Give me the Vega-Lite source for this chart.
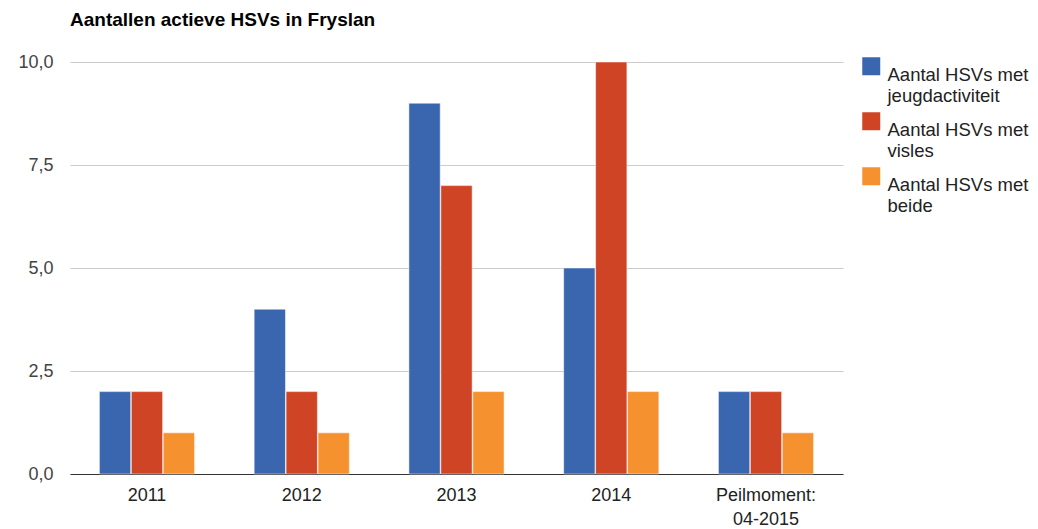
{
  "$schema": "https://vega.github.io/schema/vega-lite/v6.json",
  "autosize": "none",
  "width": 773,
  "height": 412,
  "padding": {"left": 70, "top": 62, "right": 195, "bottom": 55},
  "background": "white",
  "title": {
    "text": "Aantallen actieve HSVs in Fryslan",
    "anchor": "start",
    "frame": "group",
    "font": "Liberation Sans",
    "fontSize": 19,
    "fontWeight": "bold",
    "color": "#000000",
    "offset": 23
  },
  "config": {
    "view": {"stroke": null},
    "font": "Liberation Sans"
  },
  "data": {
    "values": [
      {"periode": "2011", "reeks": "Aantal HSVs met jeugdactiviteit", "waarde": 2},
      {"periode": "2011", "reeks": "Aantal HSVs met visles", "waarde": 2},
      {"periode": "2011", "reeks": "Aantal HSVs met beide", "waarde": 1},
      {"periode": "2012", "reeks": "Aantal HSVs met jeugdactiviteit", "waarde": 4},
      {"periode": "2012", "reeks": "Aantal HSVs met visles", "waarde": 2},
      {"periode": "2012", "reeks": "Aantal HSVs met beide", "waarde": 1},
      {"periode": "2013", "reeks": "Aantal HSVs met jeugdactiviteit", "waarde": 9},
      {"periode": "2013", "reeks": "Aantal HSVs met visles", "waarde": 7},
      {"periode": "2013", "reeks": "Aantal HSVs met beide", "waarde": 2},
      {"periode": "2014", "reeks": "Aantal HSVs met jeugdactiviteit", "waarde": 5},
      {"periode": "2014", "reeks": "Aantal HSVs met visles", "waarde": 10},
      {"periode": "2014", "reeks": "Aantal HSVs met beide", "waarde": 2},
      {"periode": "Peilmoment: 04-2015", "reeks": "Aantal HSVs met jeugdactiviteit", "waarde": 2},
      {"periode": "Peilmoment: 04-2015", "reeks": "Aantal HSVs met visles", "waarde": 2},
      {"periode": "Peilmoment: 04-2015", "reeks": "Aantal HSVs met beide", "waarde": 1}
    ]
  },
  "mark": {"type": "bar", "stroke": "white", "strokeWidth": 0.5},
  "encoding": {
    "x": {
      "field": "periode",
      "type": "nominal",
      "sort": null,
      "scale": {"paddingInner": 0.385, "paddingOuter": 0.19},
      "axis": {
        "title": null,
        "labelAngle": 0,
        "labelFontSize": 18,
        "labelColor": "#222222",
        "labelPadding": 12,
        "ticks": false,
        "domainColor": "#333333",
        "domainWidth": 1,
        "labelExpr": "datum.value == 'Peilmoment: 04-2015' ? ['Peilmoment:', '04-2015'] : datum.label",
        "labelLineHeight": 24
      }
    },
    "xOffset": {
      "field": "reeks",
      "type": "nominal",
      "sort": ["Aantal HSVs met jeugdactiviteit", "Aantal HSVs met visles", "Aantal HSVs met beide"],
      "scale": {"paddingInner": 0.02}
    },
    "y": {
      "field": "waarde",
      "type": "quantitative",
      "scale": {"domain": [0, 10], "nice": false},
      "axis": {
        "title": null,
        "values": [0, 2.5, 5, 7.5, 10],
        "labelExpr": "replace(format(datum.value, '.1f'), '.', ',')",
        "labelFontSize": 18,
        "labelColor": "#444444",
        "labelPadding": 17,
        "ticks": false,
        "domain": false,
        "gridColor": "#cccccc",
        "gridWidth": 1
      }
    },
    "color": {
      "field": "reeks",
      "type": "nominal",
      "sort": ["Aantal HSVs met jeugdactiviteit", "Aantal HSVs met visles", "Aantal HSVs met beide"],
      "scale": {
        "domain": ["Aantal HSVs met jeugdactiviteit", "Aantal HSVs met visles", "Aantal HSVs met beide"],
        "range": ["#3a66b0", "#d04426", "#f5922f"]
      },
      "legend": {
        "title": null,
        "orient": "none",
        "legendX": 792,
        "legendY": -5,
        "symbolType": "square",
        "symbolSize": 324,
        "symbolStrokeWidth": 0,
        "symbolOpacity": 1,
        "labelFontSize": 18.5,
        "labelColor": "#222222",
        "labelOffset": 7,
        "labelLineHeight": 24,
        "labelBaseline": "top",
        "rowPadding": 6,
        "labelLimit": 300,
        "labelExpr": "[slice(datum.label, 0, 15), slice(datum.label, 16)]"
      }
    }
  }
}
